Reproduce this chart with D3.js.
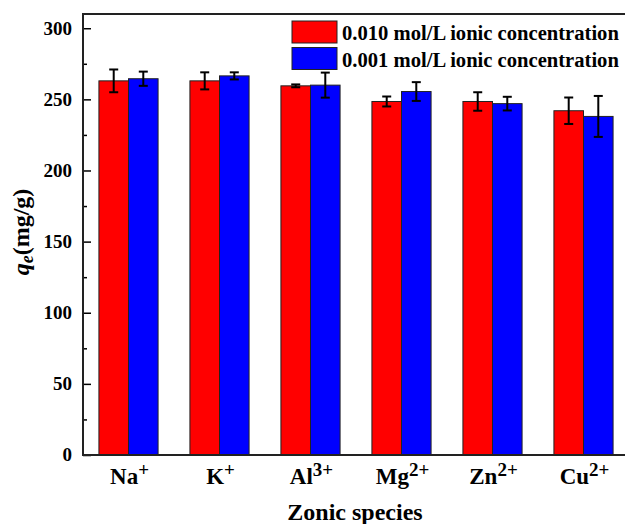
<!DOCTYPE html>
<html>

<head>
    <meta charset="utf-8">
    <script src="https://d3js.org/d3.v7.min.js"></script>
    <title>Zonic species adsorption</title>
    <style>
        body {
            margin: 0px;
            background: #fff;
            overflow: hidden;
        }

        svg {
            display: block;
        }

        svg text {
            font-family: "Liberation Serif", "Times New Roman", "DejaVu Serif", serif;
            font-weight: bold;
            fill: #000;
        }
    </style>
</head>

<body>
    <svg width="625" height="524"></svg>
    <script>
        //  Data.
        const species = ['Na', 'K', 'Al', 'Mg', 'Zn', 'Cu'];
        const charges = ['+', '+', '3+', '2+', '2+', '2+'];
        const seriesNames = ['0.010 mol/L ionic concentration', '0.001 mol/L ionic concentration'];
        const highValues = [263, 263, 259.5, 248.5, 248.5, 242];     // 0.010 mol/L
        const highErrors = [8, 6, 1, 3.5, 6.5, 9.3];
        const lowValues = [264.5, 266.5, 260, 255.5, 247, 238];      // 0.001 mol/L
        const lowErrors = [5, 2.5, 8.8, 6.6, 4.8, 14.4];
        const yTickValues = [0, 50, 100, 150, 200, 250, 300];
        const colors = ['#ff0000', '#0000ff'];

        //  The plot runs a little past the right edge of the picture.
        const margin = { left: 83, right: -4, top: 14, bottom: 69 };

        const svg = d3.select('svg');
        const width = +svg.attr('width');
        const height = +svg.attr('height');
        const innerWidth = width - margin.left - margin.right;
        const innerHeight = height - margin.top - margin.bottom;

        const g = svg.append('g')
            .attr('transform', `translate(${margin.left},${margin.top})`);

        const xScale = d3.scaleBand()
            .domain(species)
            .range([0, innerWidth])
            .paddingInner(0.35)
            .paddingOuter(0.175);

        const xSub = d3.scaleBand()
            .domain([0, 1])
            .range([0, xScale.bandwidth()]);

        const yScale = d3.scaleLinear()
            .domain([0, 310])
            .range([innerHeight, 0]);

        const rows = species.map((s, i) => ({
            name: s,
            bars: [
                { k: 0, v: highValues[i], e: highErrors[i] },
                { k: 1, v: lowValues[i], e: lowErrors[i] }
            ]
        }));

        //  Bars.
        const groups = g.selectAll('.grp')
            .data(rows)
            .enter().append('g')
            .attr('class', 'grp')
            .attr('transform', d => `translate(${xScale(d.name)},0)`);

        groups.selectAll('rect')
            .data(d => d.bars)
            .enter().append('rect')
            .attr('x', d => xSub(d.k))
            .attr('y', d => yScale(d.v))
            .attr('width', xSub.bandwidth())
            .attr('height', d => innerHeight - yScale(d.v))
            .attr('fill', d => colors[d.k])
            .attr('stroke', '#222')
            .attr('stroke-width', 1);

        //  Error bars.
        const capW = 4.5;
        const errG = groups.selectAll('.err')
            .data(d => d.bars)
            .enter().append('g')
            .attr('class', 'err')
            .attr('stroke', '#000')
            .attr('stroke-width', 2);
        errG.append('line')
            .attr('x1', d => xSub(d.k) + xSub.bandwidth() / 2)
            .attr('x2', d => xSub(d.k) + xSub.bandwidth() / 2)
            .attr('y1', d => yScale(d.v + d.e))
            .attr('y2', d => yScale(d.v - d.e));
        errG.append('line')
            .attr('x1', d => xSub(d.k) + xSub.bandwidth() / 2 - capW)
            .attr('x2', d => xSub(d.k) + xSub.bandwidth() / 2 + capW)
            .attr('y1', d => yScale(d.v + d.e))
            .attr('y2', d => yScale(d.v + d.e));
        errG.append('line')
            .attr('x1', d => xSub(d.k) + xSub.bandwidth() / 2 - capW)
            .attr('x2', d => xSub(d.k) + xSub.bandwidth() / 2 + capW)
            .attr('y1', d => yScale(d.v - d.e))
            .attr('y2', d => yScale(d.v - d.e));

        //  Y axis: inward ticks, minor every 25.
        const yAxisG = g.append('g');
        yAxisG.append('g')
            .call(d3.axisRight(yScale).tickValues(d3.range(25, 310, 50)).tickSize(4));
        yAxisG.append('g')
            .call(d3.axisRight(yScale).tickValues(yTickValues).tickSize(8));
        yAxisG.selectAll('.domain').remove();
        yAxisG.selectAll('.tick text').remove();   // labels drawn below, left of the axis
        yAxisG.selectAll('.tick line').attr('stroke', '#000').attr('stroke-width', 1.5);

        yAxisG.selectAll('.lbl')
            .data(yTickValues)
            .enter().append('text')
            .attr('class', 'lbl')
            .attr('x', -11)
            .attr('y', d => yScale(d))
            .attr('dy', '0.34em')
            .attr('text-anchor', 'end')
            .style('font-size', '19px')
            .text(d => d);

        //  Axis frame: left, top and bottom lines; the right side is off the picture.
        const frameRight = width - margin.left;
        const frame = d3.path();
        frame.moveTo(frameRight, 0);
        frame.lineTo(0, 0);
        frame.lineTo(0, innerHeight);
        frame.lineTo(frameRight, innerHeight);
        g.append('path')
            .attr('d', frame.toString())
            .attr('fill', 'none')
            .attr('stroke', '#222')
            .attr('stroke-width', 2);

        //  X labels with superscript charge.
        const xl = g.selectAll('.xl')
            .data(species)
            .enter().append('text')
            .attr('class', 'xl')
            .attr('x', d => xScale(d) + xScale.bandwidth() / 2 + 1)
            .attr('y', innerHeight + 29)
            .attr('text-anchor', 'middle')
            .style('font-size', '23px');
        xl.append('tspan').text(d => d);
        xl.append('tspan')
            .attr('dy', -8)
            .style('font-size', '19px')
            .text((d, i) => charges[i]);

        g.append('text')
            .attr('x', innerWidth / 2 - 1)
            .attr('y', innerHeight + 65)
            .attr('text-anchor', 'middle')
            .style('font-size', '24px')
            .text('Zonic species');

        //  Y label.
        const yl = svg.append('text')
            .attr('transform', `translate(29,${margin.top + 218}) rotate(-90)`)
            .attr('text-anchor', 'middle')
            .style('font-size', '24px');
        yl.append('tspan').style('font-style', 'italic').text('q');
        yl.append('tspan').style('font-style', 'italic').style('font-size', '18px').attr('dy', 4).text('e');
        yl.append('tspan').attr('dy', -4).text('(mg/g)');

        //  Legend.
        const legend = svg.append('g')
            .attr('transform', 'translate(292,21)');
        seriesNames.forEach((name, i) => {
            legend.append('rect')
                .attr('x', 0)
                .attr('y', i * 26.5)
                .attr('width', 45)
                .attr('height', 22)
                .attr('fill', colors[i])
                .attr('stroke', '#222')
                .attr('stroke-width', 1);
            legend.append('text')
                .attr('x', 50)
                .attr('y', i * 26.5 + 19)
                .style('font-size', '20.6px')
                .text(name);
        });
    </script>
</body>

</html>
